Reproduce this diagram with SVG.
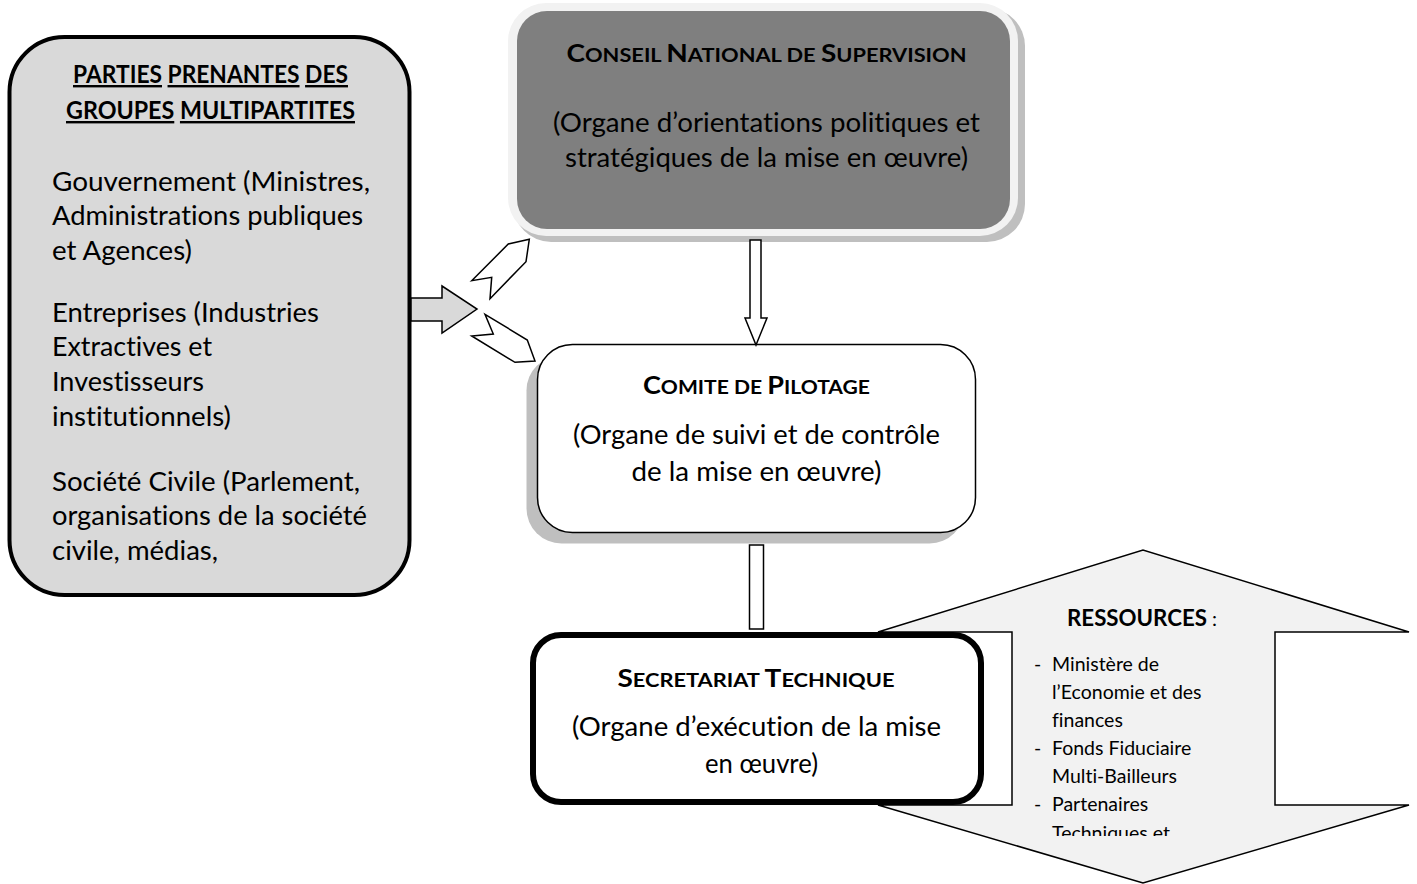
<svg xmlns="http://www.w3.org/2000/svg" width="1417" height="884" viewBox="0 0 1417 884">
<defs>
<style>
text{font-family:Lato,"Open Sans","Liberation Sans",sans-serif;fill:#000;font-variant-ligatures:none;font-feature-settings:"liga" 0,"clig" 0}
.body{font-size:26.5px}
.title{font-size:24px;font-weight:bold}
.cap{font-size:25px;font-weight:bold}
.sc{font-size:19.5px;font-weight:bold}
.u{text-decoration:underline}
.list{font-size:19.5px}
.conn{fill:#fff;stroke:#000;stroke-width:1.5;stroke-linejoin:miter}
</style>
<clipPath id="resclip"><rect x="1012" y="550" width="264" height="286"/></clipPath>
</defs>
<rect width="1417" height="884" fill="#fff"/>

<g id="parties-prenantes">
<rect x="9.5" y="37" width="400" height="558" rx="55" fill="#d9d9d9" stroke="#000" stroke-width="4"/>
<text class="title" x="73" y="83" textLength="275" lengthAdjust="spacingAndGlyphs"><tspan class="u">PARTIES</tspan> <tspan class="u">PRENANTES</tspan> <tspan class="u">DES</tspan></text>
<text class="title" x="66" y="119" textLength="289" lengthAdjust="spacingAndGlyphs"><tspan class="u">GROUPES</tspan> <tspan class="u">MULTIPARTITES</tspan></text>
<text class="body" x="52" y="191" textLength="318" lengthAdjust="spacingAndGlyphs">Gouvernement (Ministres,</text>
<text class="body" x="52" y="225" textLength="311" lengthAdjust="spacingAndGlyphs">Administrations publiques</text>
<text class="body" x="52" y="260" textLength="140" lengthAdjust="spacingAndGlyphs">et Agences)</text>
<text class="body" x="52" y="322" textLength="267" lengthAdjust="spacingAndGlyphs">Entreprises (Industries</text>
<text class="body" x="52" y="356" textLength="160" lengthAdjust="spacingAndGlyphs">Extractives et</text>
<text class="body" x="52" y="391" textLength="152" lengthAdjust="spacingAndGlyphs">Investisseurs</text>
<text class="body" x="52" y="426" textLength="179" lengthAdjust="spacingAndGlyphs">institutionnels)</text>
<text class="body" x="52" y="491" textLength="308" lengthAdjust="spacingAndGlyphs">Société Civile (Parlement,</text>
<text class="body" x="52" y="525" textLength="315" lengthAdjust="spacingAndGlyphs">organisations de la société</text>
<text class="body" x="52" y="560" textLength="166" lengthAdjust="spacingAndGlyphs">civile, médias,</text>
</g>

<g id="conseil-national">
<rect x="513" y="8" width="512" height="234" rx="38" fill="#bfbfbf"/>
<rect x="508" y="3" width="510" height="233" rx="38" fill="#f2f2f2"/>
<rect x="517" y="11" width="493" height="218" rx="30" fill="#7f7f7f"/>
<text x="766.5" y="62" text-anchor="middle" textLength="400" lengthAdjust="spacingAndGlyphs"><tspan class="cap">C</tspan><tspan class="sc">ONSEIL </tspan><tspan class="cap">N</tspan><tspan class="sc">ATIONAL DE </tspan><tspan class="cap">S</tspan><tspan class="sc">UPERVISION</tspan></text>
<text class="body" x="766.5" y="132" text-anchor="middle" textLength="427" lengthAdjust="spacingAndGlyphs">(Organe d’orientations politiques et</text>
<text class="body" x="766.5" y="167" text-anchor="middle" textLength="403" lengthAdjust="spacingAndGlyphs">stratégiques de la mise en œuvre)</text>
</g>

<g id="comite-pilotage">
<rect x="526.5" y="355.5" width="438" height="188" rx="35" fill="#bfbfbf"/>
<rect x="537.5" y="344.5" width="438" height="188" rx="35" fill="#fff" stroke="#000" stroke-width="1.5"/>
<text x="756.5" y="394" text-anchor="middle" textLength="227" lengthAdjust="spacingAndGlyphs"><tspan class="cap">C</tspan><tspan class="sc">OMITE DE </tspan><tspan class="cap">P</tspan><tspan class="sc">ILOTAGE</tspan></text>
<text class="body" x="756.5" y="444" text-anchor="middle" textLength="367" lengthAdjust="spacingAndGlyphs">(Organe de suivi et de contrôle</text>
<text class="body" x="756.5" y="481" text-anchor="middle" textLength="250" lengthAdjust="spacingAndGlyphs">de la mise en œuvre)</text>
</g>

<g id="ressources">
<polygon points="1012,632 878,632 1143,550 1409,632 1275,632 1275,805 1409,805 1143,883 878,805 1012,805" fill="#f2f2f2" stroke="#000" stroke-width="1.5" stroke-linejoin="miter"/>
<g clip-path="url(#resclip)">
<text x="1067" y="626"><tspan font-size="22" font-weight="bold" textLength="140" lengthAdjust="spacingAndGlyphs">RESSOURCES</tspan><tspan font-size="20"> :</tspan></text>
<text class="list" y="671"><tspan x="1034">-</tspan><tspan x="1052">Ministère de</tspan></text>
<text class="list" x="1052" y="699">l’Economie et des</text>
<text class="list" x="1052" y="727">finances</text>
<text class="list" y="755"><tspan x="1034">-</tspan><tspan x="1052">Fonds Fiduciaire</tspan></text>
<text class="list" x="1052" y="783">Multi-Bailleurs</text>
<text class="list" y="811"><tspan x="1034">-</tspan><tspan x="1052">Partenaires</tspan></text>
<text class="list" x="1052" y="840">Techniques et</text>
</g>
</g>

<g id="secretariat-technique">
<rect x="533" y="635" width="448" height="167" rx="28" fill="#fff" stroke="#000" stroke-width="6"/>
<text x="756" y="687" text-anchor="middle" textLength="277" lengthAdjust="spacingAndGlyphs"><tspan class="cap">S</tspan><tspan class="sc">ECRETARIAT </tspan><tspan class="cap">T</tspan><tspan class="sc">ECHNIQUE</tspan></text>
<text class="body" x="756.5" y="736" text-anchor="middle" textLength="369" lengthAdjust="spacingAndGlyphs">(Organe d’exécution de la mise</text>
<text class="body" x="761.5" y="773" text-anchor="middle" textLength="113" lengthAdjust="spacingAndGlyphs">en œuvre)</text>
</g>

<g id="connectors">
<polygon class="conn" points="750,240 761,240 761,318 767,318 756,345 745,318 750,318"/>
<rect class="conn" x="749.5" y="545" width="14" height="84"/>
<polygon points="411,298 442,298 442,286 477,309 442,333 442,321 411,321" fill="#d9d9d9" stroke="#000" stroke-width="1.5"/>
<polygon class="conn" points="471.7,280.7 508.3,244 529.3,239.3 526,261.7 490,298.7 491.7,277.3"/>
<polygon class="conn" points="485,314.3 527.3,340 535,361 515,362.3 471.7,336 493.3,334"/>
</g>
</svg>
